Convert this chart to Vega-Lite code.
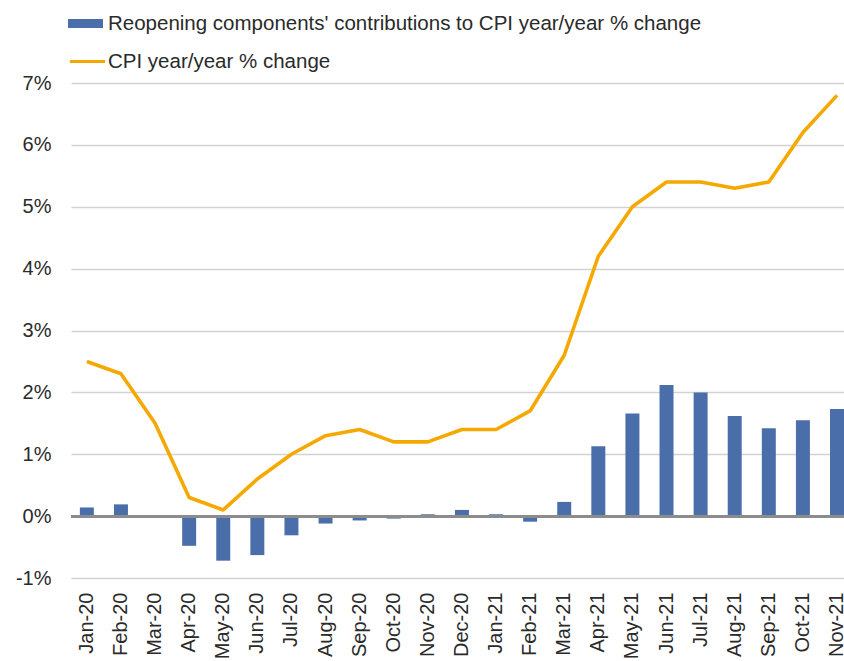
{
  "$schema": "https://vega.github.io/schema/vega-lite/v6.json",
  "autosize": "none",
  "width": 773,
  "height": 495,
  "padding": {"left": 71, "top": 83, "right": 0, "bottom": 83},
  "background": "white",
  "config": {
    "view": {"stroke": null},
    "font": "Liberation Sans",
    "axis": {"labelFont": "Liberation Sans", "labelColor": "#2a2a2a", "labelFontSize": 20},
    "legend": {"labelFont": "Liberation Sans", "labelColor": "#2a2a2a", "labelFontSize": 20.5, "labelLimit": 0}
  },
  "data": {
    "values": [
      {"month": "Jan-20", "reopening": 0.14, "cpi": 2.5},
      {"month": "Feb-20", "reopening": 0.19, "cpi": 2.3},
      {"month": "Mar-20", "reopening": 0.0, "cpi": 1.5},
      {"month": "Apr-20", "reopening": -0.48, "cpi": 0.3},
      {"month": "May-20", "reopening": -0.72, "cpi": 0.1},
      {"month": "Jun-20", "reopening": -0.63, "cpi": 0.6},
      {"month": "Jul-20", "reopening": -0.31, "cpi": 1.0},
      {"month": "Aug-20", "reopening": -0.12, "cpi": 1.3},
      {"month": "Sep-20", "reopening": -0.07, "cpi": 1.4},
      {"month": "Oct-20", "reopening": -0.04, "cpi": 1.2},
      {"month": "Nov-20", "reopening": 0.03, "cpi": 1.2},
      {"month": "Dec-20", "reopening": 0.1, "cpi": 1.4},
      {"month": "Jan-21", "reopening": 0.03, "cpi": 1.4},
      {"month": "Feb-21", "reopening": -0.09, "cpi": 1.7},
      {"month": "Mar-21", "reopening": 0.23, "cpi": 2.6},
      {"month": "Apr-21", "reopening": 1.13, "cpi": 4.2},
      {"month": "May-21", "reopening": 1.66, "cpi": 5.0},
      {"month": "Jun-21", "reopening": 2.12, "cpi": 5.4},
      {"month": "Jul-21", "reopening": 2.0, "cpi": 5.4},
      {"month": "Aug-21", "reopening": 1.62, "cpi": 5.3},
      {"month": "Sep-21", "reopening": 1.42, "cpi": 5.4},
      {"month": "Oct-21", "reopening": 1.55, "cpi": 6.2},
      {"month": "Nov-21", "reopening": 1.73, "cpi": 6.8}
    ]
  },
  "encoding": {
    "x": {
      "field": "month",
      "type": "nominal",
      "sort": null,
      "scale": {"paddingInner": 0.59, "paddingOuter": 0.13, "align": 1},
      "axis": {"title": null, "labelAngle": -90, "domain": false, "ticks": false, "labelPadding": 14, "grid": false}
    }
  },
  "layer": [
    {
      "mark": {"type": "bar"},
      "encoding": {
        "y": {
          "field": "reopening",
          "type": "quantitative",
          "scale": {"domain": [-1, 7], "nice": false},
          "axis": {
            "title": null,
            "values": [-1, 0, 1, 2, 3, 4, 5, 6, 7],
            "labelExpr": "datum.value + '%'",
            "domain": false,
            "ticks": false,
            "labelPadding": 20,
            "grid": true,
            "gridColor": "#d2d2d2",
            "gridWidth": 1.5
          }
        },
        "fill": {
          "datum": "Reopening components' contributions to CPI year/year % change",
          "type": "nominal",
          "scale": {"range": ["#4A6EA9"]},
          "legend": {
            "title": null,
            "orient": "none",
            "legendX": -3,
            "legendY": -77,
            "symbolType": "M-1,-0.26H1V0.26H-1Z",
            "symbolSize": 1225,
            "symbolStrokeWidth": 0,
            "labelOffset": 5
          }
        }
      }
    },
    {
      "mark": {"type": "rule", "color": "#8c8c8c", "strokeWidth": 2.5},
      "encoding": {"x": null, "y": {"datum": 0, "type": "quantitative"}}
    },
    {
      "mark": {"type": "line", "strokeWidth": 3.6, "strokeJoin": "round"},
      "encoding": {
        "y": {"field": "cpi", "type": "quantitative"},
        "stroke": {
          "datum": "CPI year/year % change",
          "type": "nominal",
          "scale": {"range": ["#F5A800"]},
          "legend": {
            "title": null,
            "orient": "none",
            "legendX": -3,
            "legendY": -41,
            "symbolType": "stroke",
            "symbolSize": 1225,
            "symbolStrokeWidth": 3.2,
            "labelOffset": 1
          }
        }
      }
    }
  ]
}
